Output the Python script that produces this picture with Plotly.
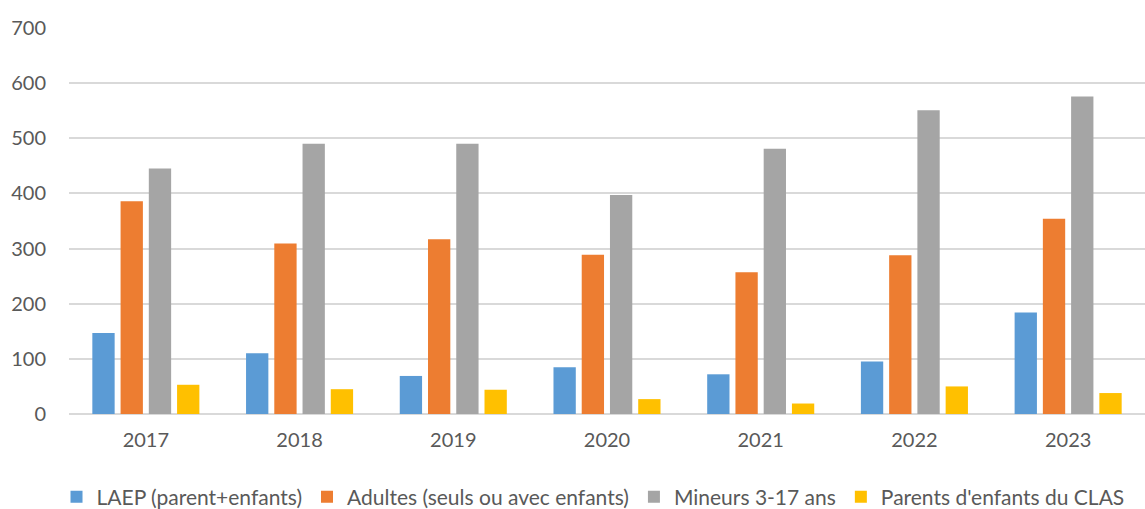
import plotly.graph_objects as go

years = ["2017", "2018", "2019", "2020", "2021", "2022", "2023"]
laep = [147, 110, 69, 85, 72, 95, 184]
adultes = [386, 309, 317, 289, 257, 288, 354]
mineurs = [445, 490, 490, 397, 481, 551, 576]
parents = [53, 45, 44, 27, 19, 50, 38]

series = [
    ("LAEP (parent+enfants)", laep, "#5B9BD5"),
    ("Adultes (seuls ou avec enfants)", adultes, "#ED7D31"),
    ("Mineurs 3-17 ans", mineurs, "#A5A5A5"),
    ("Parents d'enfants du CLAS", parents, "#FFC000"),
]

fig = go.Figure()
for name, vals, color in series:
    fig.add_trace(go.Bar(x=years, y=vals, name=name, marker=dict(color=color, line=dict(width=0))))

fig.update_layout(
    width=1145, height=509,
    barmode="group", bargap=0.265, bargroupgap=0.21,
    plot_bgcolor="white", paper_bgcolor="white",
    margin=dict(l=69, r=0, t=28, b=95, autoexpand=False),
    font=dict(family="Lato, Open Sans, sans-serif", size=20, color="#595959"),
    yaxis=dict(range=[0, 700], dtick=100, gridcolor="#D9D9D9", gridwidth=1.5,
               zeroline=True, zerolinecolor="#D9D9D9", zerolinewidth=1.5,
               ticks="", ticklabelstandoff=22, showline=False, automargin=False),
    xaxis=dict(showline=False, ticks="", ticklabelstandoff=12, automargin=False),
    legend=dict(orientation="h", x=0.487, xanchor="center", y=-0.215, yanchor="middle",
                font=dict(size=21, color="#595959"), itemwidth=30, traceorder="normal"),
)
fig.write_html(
    "out.html",
    config={"displayModeBar": False},
    post_script="document.body.style.margin='0';document.body.style.overflow='hidden';",
)
